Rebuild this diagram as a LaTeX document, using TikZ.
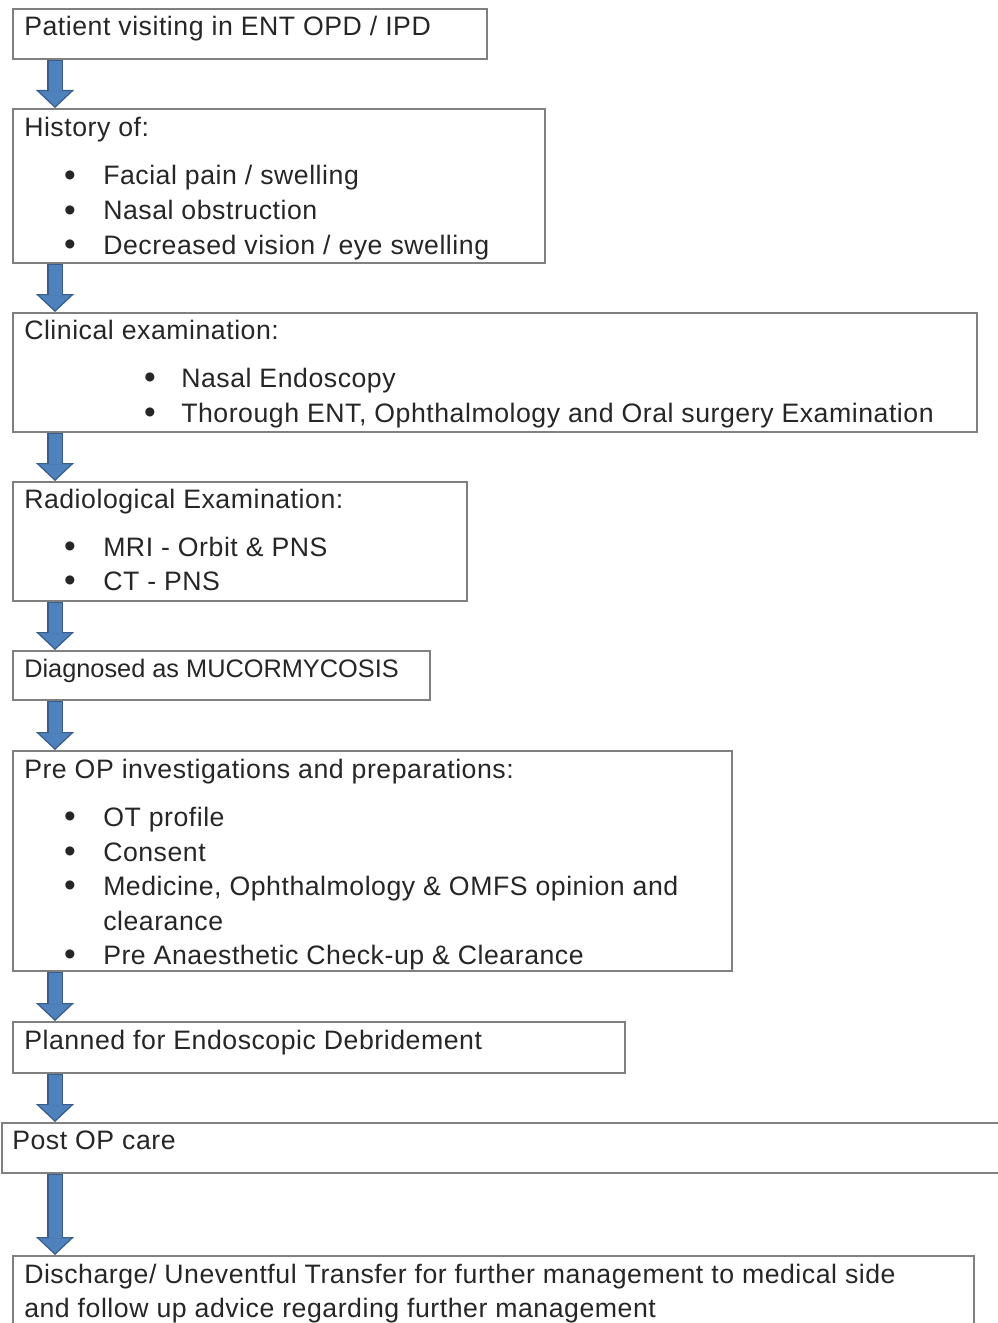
\documentclass[tikz,border=0pt]{standalone}
\usepackage{fontspec}
\setmainfont{Liberation Sans}[LetterSpace=2]
\usetikzlibrary{arrows.meta,calc}
\definecolor{boxline}{RGB}{128,128,128}
\definecolor{arrowfill}{RGB}{79,129,189}
\definecolor{arrowedge}{RGB}{56,93,138}
\definecolor{txt}{RGB}{38,38,38}

\begin{document}
\begin{tikzpicture}[x=0.75pt,y=-0.75pt,
    box/.style={draw=boxline, line width=1.2pt, anchor=north west, inner sep=0pt},
    line/.style={anchor=base west, inner sep=0pt, text=txt, font=\fontsize{20}{24}\selectfont},
    dot/.style={line, anchor=base, yshift=-1.2pt, font=\fontsize{25}{25}\selectfont},
    flow/.style={draw=arrowedge, line width=12pt,
        -{Triangle[width=28.5pt,length=13.5pt,fill=arrowfill,line width=0.9pt]},
        postaction={draw=arrowfill, line width=9.75pt, arrows=-, shorten >=13pt, shorten <=0.9pt}}]
    \useasboundingbox (0,0) rectangle (998,1323);
    \coordinate (axis) at (55,0);

    \node[box, minimum width=355.5pt, minimum height=37.5pt] (patient) at (12,8) {};
    \node[line] (patientA) at (24,36) {Patient visiting in ENT OPD / IPD};

    \node[box, minimum width=399pt, minimum height=115.5pt] (history) at (12,108) {};
    \node[line] (historyA) at (24,137) {History of:};
    \node[dot] (historyD1) at (70,185) {\textbullet};
    \node[line] (historyB) at (103,185) {Facial pain / swelling};
    \node[dot] (historyD2) at (70,220) {\textbullet};
    \node[line] (historyC) at (103,220) {Nasal obstruction};
    \node[dot] (historyD3) at (70,254) {\textbullet};
    \node[line] (historyD) at (103,254) {Decreased vision / eye swelling};

    \node[box, minimum width=723pt, minimum height=89.25pt] (clinical) at (12,312) {};
    \node[line] (clinicalA) at (24,339) {Clinical examination:};
    \node[dot] (clinicalD1) at (150,387) {\textbullet};
    \node[line] (clinicalB) at (181,387) {Nasal Endoscopy};
    \node[dot] (clinicalD2) at (150,422) {\textbullet};
    \node[line] (clinicalC) at (181,422) {Thorough ENT, Ophthalmology and Oral surgery Examination};

    \node[box, minimum width=340.5pt, minimum height=89.25pt] (radio) at (12,481) {};
    \node[line] (radioA) at (24,508) {Radiological Examination:};
    \node[dot] (radioD1) at (70,556) {\textbullet};
    \node[line] (radioB) at (103,556) {MRI - Orbit \& PNS};
    \node[dot] (radioD2) at (70,590) {\textbullet};
    \node[line] (radioC) at (103,590) {CT - PNS};

    \node[box, minimum width=312.75pt, minimum height=36.75pt] (diag) at (12,650) {};
    \node[line, font=\fontsize{19}{24}\selectfont\addfontfeature{LetterSpace=0}] (diagA) at (24,677) {Diagnosed as MUCORMYCOSIS};

    \node[box, minimum width=539.25pt, minimum height=165pt] (preop) at (12,750) {};
    \node[line] (preopA) at (24,778) {Pre OP investigations and preparations:};
    \node[dot] (preopD1) at (70,826) {\textbullet};
    \node[line] (preopB) at (103,826) {OT profile};
    \node[dot] (preopD2) at (70,861) {\textbullet};
    \node[line] (preopC) at (103,861) {Consent};
    \node[dot] (preopD3) at (70,895) {\textbullet};
    \node[line] (preopD) at (103,895) {Medicine, Ophthalmology \& OMFS opinion and};
    \node[line] (preopE) at (103,930) {clearance};
    \node[dot] (preopD4) at (70,964) {\textbullet};
    \node[line] (preopF) at (103,964) {Pre Anaesthetic Check-up \& Clearance};

    \node[box, minimum width=459pt, minimum height=38.25pt] (planned) at (12,1021) {};
    \node[line] (plannedA) at (24,1049) {Planned for Endoscopic Debridement};

    \node[box, minimum width=756.75pt, minimum height=37.5pt] (postop) at (1,1122) {};
    \node[line] (postopA) at (12,1149) {Post OP care};

    \node[box, minimum width=720.75pt, minimum height=67.5pt] (discharge) at (12,1255) {};
    \node[line] (dischargeA) at (24,1283) {Discharge/ Uneventful Transfer for further management to medical side};
    \node[line] (dischargeB) at (24,1317) {and follow up advice regarding further management};

    \draw[flow] (patient.south -| axis) -- (history.north -| axis);
    \draw[flow] (history.south -| axis) -- (clinical.north -| axis);
    \draw[flow] (clinical.south -| axis) -- (radio.north -| axis);
    \draw[flow] (radio.south -| axis) -- (diag.north -| axis);
    \draw[flow] (diag.south -| axis) -- (preop.north -| axis);
    \draw[flow] (preop.south -| axis) -- (planned.north -| axis);
    \draw[flow] (planned.south -| axis) -- (postop.north -| axis);
    \draw[flow] (postop.south -| axis) -- (discharge.north -| axis);
\end{tikzpicture}
\end{document}
